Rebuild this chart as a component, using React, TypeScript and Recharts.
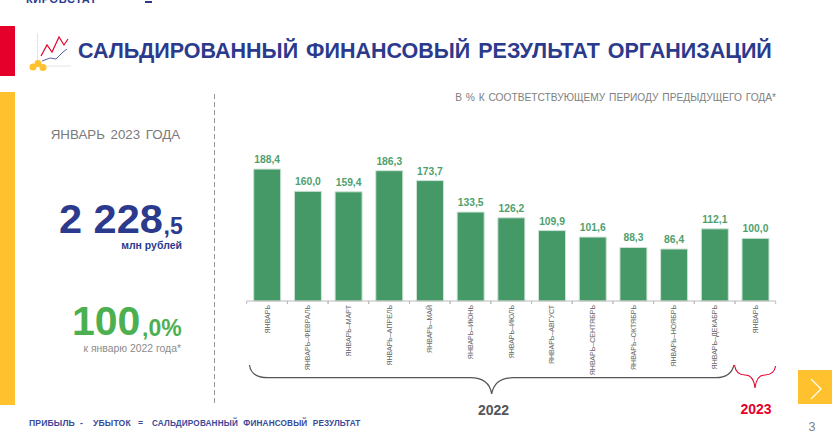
import { Bar, BarChart, LabelList, XAxis, YAxis } from 'recharts';

const categories = [
  'ЯНВАРЬ',
  'ЯНВАРЬ–ФЕВРАЛЬ',
  'ЯНВАРЬ–МАРТ',
  'ЯНВАРЬ–АПРЕЛЬ',
  'ЯНВАРЬ–МАЙ',
  'ЯНВАРЬ–ИЮНЬ',
  'ЯНВАРЬ–ИЮЛЬ',
  'ЯНВАРЬ–АВГУСТ',
  'ЯНВАРЬ–СЕНТЯБРЬ',
  'ЯНВАРЬ–ОКТЯБРЬ',
  'ЯНВАРЬ–НОЯБРЬ',
  'ЯНВАРЬ–ДЕКАБРЬ',
  'ЯНВАРЬ',
];
const values = [188.4, 160.0, 159.4, 186.3, 173.7, 133.5, 126.2, 109.9, 101.6, 88.3, 86.4, 112.1, 100.0];

const data = categories.map((name, i) => ({ id: i, name, value: values[i] }));

const FONT = '"Liberation Sans", Arial, sans-serif';
const BLUE = '#2b3a8c';
const GREEN = '#4caf50';
const BAR_GREEN = '#449966';
const RED = '#e4002b';
const YELLOW = '#ffc12e';

const PLOT_LEFT = 246.7;
const PLOT_RIGHT = 775.7;
const STEP = (PLOT_RIGHT - PLOT_LEFT) / categories.length;

function MonthTick({ x, payload }: any) {
  const label = categories[payload.value];
  return (
    <g>
      <line x1={x - STEP / 2} x2={x - STEP / 2} y1={301} y2={304} stroke="#bbbbbb" />
      <line x1={x + STEP / 2} x2={x + STEP / 2} y1={301} y2={304} stroke="#bbbbbb" />
      <text
        transform={`translate(${x + 2.5},305) rotate(-90)`}
        textAnchor="end"
        fontFamily={FONT}
        fontSize={7}
        fill="#666666"
      >
        {label}
      </text>
    </g>
  );
}

function Decorations() {
  const footer = { y: 426, fontSize: 8.6, fontWeight: 'bold', fill: '#3b4a9a', letterSpacing: 0.15 };
  return (
    <svg width={832} height={432} style={{ position: 'absolute', left: 0, top: 0 }} fontFamily={FONT}>
      <text x={26} y={3} fontSize={11} fontWeight="bold" fill={BLUE} letterSpacing={0.6}>КИРОВСТАТ</text>
      <rect x={145} y={1} width={7} height={2} fill={BLUE} />
      <rect x={0} y={26} width={15} height={50} fill={RED} />
      <rect x={0} y={92} width={15} height={313} fill={YELLOW} />

      {/* логотип */}
      <path d="M37.5 33V66M37.5 66H71" stroke="#e4e4e4" strokeWidth={1} fill="none" />
      <path d="M41 56L47 45L52 52L59 37L64 45L68 39" stroke={RED} strokeWidth={1.2} fill="none" />
      <path d="M42 61L50 58L56 59L63 52L67 49" stroke={BLUE} strokeWidth={0.8} fill="none" />
      <circle cx={33} cy={67} r={3.5} fill={YELLOW} />
      <circle cx={38} cy={63.5} r={3.5} fill={YELLOW} />
      <circle cx={43} cy={67.5} r={3.5} fill={YELLOW} />

      <text x={78} y={58} fontSize={21.5} fontWeight="bold" fill={BLUE} wordSpacing={2}>
        САЛЬДИРОВАННЫЙ ФИНАНСОВЫЙ РЕЗУЛЬТАТ ОРГАНИЗАЦИЙ
      </text>
      <text x={776} y={101} textAnchor="end" fontSize={10.2} fill="#808080" wordSpacing={1}>
        В % К СООТВЕТСТВУЮЩЕМУ ПЕРИОДУ ПРЕДЫДУЩЕГО ГОДА*
      </text>

      <line x1={214.5} x2={214.5} y1={94} y2={405} stroke="#999999" strokeDasharray="5 3" />

      <text x={115.5} y={139} textAnchor="middle" fontSize={13.3} fill="#7a7a7a" wordSpacing={2}>ЯНВАРЬ 2023 ГОДА</text>
      <text x={59} y={233} fontSize={41.5} fontWeight="bold" fill={BLUE}>2 228</text>
      <text x={163.5} y={234} fontSize={23} fontWeight="bold" fill={BLUE}>,5</text>
      <text x={182} y={249} textAnchor="end" fontSize={10.5} fontWeight="bold" fill={BLUE}>млн рублей</text>

      <text x={72} y={335} fontSize={41} fontWeight="bold" fill={GREEN}>100</text>
      <text x={142} y={336} fontSize={23} fontWeight="bold" fill={GREEN}>,0%</text>
      <text x={181} y={352} textAnchor="end" fontSize={10.4} fill="#8c8c8c">к январю 2022 года*</text>

      <path
        d="M249.5 365C250.5 373 257 377.7 268 377.7H470C482 377.7 490 383 491.7 394C493.5 383 501 377.7 513 377.7H716C726 377.7 732 373 734 365"
        stroke="#555555"
        strokeWidth={1.2}
        fill="none"
      />
      <path
        d="M734.5 365C735.5 372 739 375 745 375C750 375 754 379 755 388C756 379 760 375 765 375C771 375 774.5 372 775.6 366"
        stroke={RED}
        strokeWidth={1.1}
        fill="none"
      />
      <text x={493.5} y={415} textAnchor="middle" fontSize={14} fontWeight="bold" fill="#555555">2022</text>
      <text x={756} y={414} textAnchor="middle" fontSize={14} fontWeight="bold" fill={RED}>2023</text>

      <text x={29} {...footer}>ПРИБЫЛЬ</text>
      <text x={80} {...footer}>-</text>
      <text x={93} {...footer}>УБЫТОК</text>
      <text x={138} {...footer}>=</text>
      <text x={152} {...footer} fontSize={8.2} wordSpacing={3}>САЛЬДИРОВАННЫЙ ФИНАНСОВЫЙ РЕЗУЛЬТАТ</text>

      <rect x={798} y={370} width={34} height={34} fill={YELLOW} />
      <path d="M811 379L821 389L811 399" stroke="#ffffff" strokeWidth={1.2} fill="none" />
      <text x={812} y={431} textAnchor="middle" fontSize={12.5} fill="#808080">3</text>
    </svg>
  );
}

export default function App() {
  return (
    <div style={{ position: 'absolute', left: 0, top: 0, width: 832, height: 432, background: '#ffffff', overflow: 'hidden' }}>
      <Decorations />
      <div style={{ position: 'absolute', left: 0, top: 0 }}>
        <BarChart
          width={832}
          height={432}
          data={data}
          barSize={27}
          margin={{ top: 160, right: 832 - PLOT_RIGHT, bottom: 71, left: PLOT_LEFT }}
        >
          <XAxis
            dataKey="id"
            height={60}
            interval={0}
            tickLine={false}
            axisLine={{ stroke: '#bbbbbb' }}
            tick={<MonthTick />}
          />
          <YAxis hide domain={[20, 200]} />
          <Bar dataKey="value" fill={BAR_GREEN} stroke="#cfe3d6" strokeWidth={1} isAnimationActive={false}>
            <LabelList
              dataKey="value"
              position="top"
              offset={6}
              fontFamily={FONT}
              fontSize={10.3}
              fontWeight="bold"
              fill="#4f9f6e"
              formatter={(v: any) => Number(v).toFixed(1).replace('.', ',')}
            />
          </Bar>
        </BarChart>
      </div>
    </div>
  );
}
